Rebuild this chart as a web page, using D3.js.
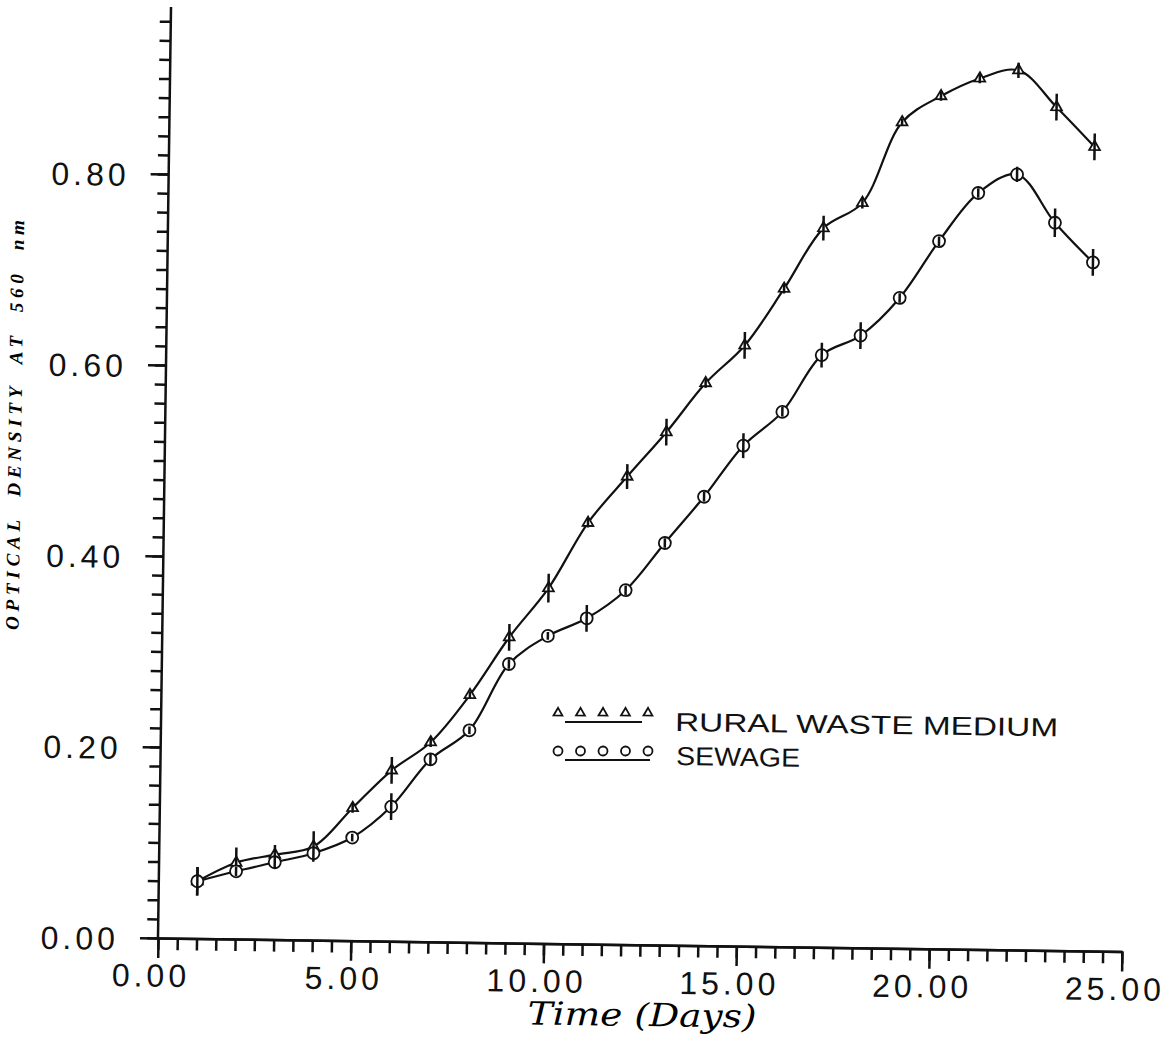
<!DOCTYPE html>
<html>
<head>
<meta charset="utf-8">
<title>Optical density at 560 nm</title>
<style>
  body { margin: 0; background: #fff; }
  svg { display: block; }
  .tick-label { font-family: "Liberation Sans", Arial, sans-serif; font-size: 32px; letter-spacing: 4px; fill: #111; }
  .axis path, .axis line { stroke: #111; stroke-width: 2.5; }
</style>
</head>
<body>
<svg id="chart" width="1173" height="1051"></svg>
<script src="https://d3js.org/d3.v7.min.js"></script>
<script>
// data
const days = [1, 2, 3, 4, 5, 6, 7, 8, 9, 10, 11, 12, 13, 14, 15, 16, 17, 18, 19, 20, 21, 22, 23, 24];
const rural = [0.060, 0.080, 0.089, 0.098, 0.139, 0.179, 0.209, 0.259, 0.320, 0.372, 0.441, 0.490,
               0.537, 0.589, 0.629, 0.689, 0.753, 0.780, 0.865, 0.893, 0.912, 0.921, 0.883, 0.842];
const ruralErr = [0.015, 0.016, 0.010, 0.016, 0.005, 0.014, 0.005, 0.004, 0.014, 0.015, 0.005, 0.013,
                  0.014, 0.005, 0.014, 0.005, 0.013, 0.006, 0.004, 0.005, 0.005, 0.008, 0.014, 0.014];
const sewage = [0.060, 0.071, 0.081, 0.091, 0.108, 0.141, 0.191, 0.222, 0.292, 0.322, 0.341, 0.371,
                0.421, 0.470, 0.524, 0.560, 0.620, 0.641, 0.681, 0.741, 0.792, 0.812, 0.762, 0.721];
const sewageErr = [0.015, 0.005, 0.006, 0.006, 0.004, 0.014, 0.006, 0.004, 0.005, 0.004, 0.014, 0.005,
                   0.005, 0.005, 0.013, 0.005, 0.013, 0.014, 0.005, 0.005, 0.005, 0.008, 0.015, 0.014];
const xTicks = [0, 5, 10, 15, 20, 25];
const yTicks = [0, 0.2, 0.4, 0.6, 0.8];
const legendLabels = ['RURAL WASTE MEDIUM', 'SEWAGE'];

const origin = [158, 938];
const tilt = 0.8; // the scanned figure leans a little clockwise
const sn = Math.sin(tilt * Math.PI / 180), cs = Math.cos(tilt * Math.PI / 180);

// screen position -> position inside the tilted group
function local(X, Y) {
  const dx = X - origin[0], dy = Y - origin[1];
  return [origin[0] + dx * cs + dy * sn, origin[1] - dx * sn + dy * cs];
}

const svg = d3.select('#chart');
svg.append('rect').attr('width', 1173).attr('height', 1051).attr('fill', '#fff');
const g = svg.append('g').attr('transform', `rotate(${tilt},${origin[0]},${origin[1]})`);

const x = d3.scaleLinear().domain([0, 25]).range([158, 1122]);
const y = d3.scaleLinear().domain([0, 1]).range([938, -17]);

// x axis, minor then major ticks
g.append('g').attr('class', 'axis').attr('transform', `translate(0,${y(0)})`)
  .call(d3.axisBottom(x).tickValues(d3.range(0, 25.01, 0.5)).tickSize(12).tickSizeOuter(0).tickFormat(''));
const xAxis = g.append('g').attr('class', 'axis').attr('transform', `translate(0,${y(0)})`)
  .call(d3.axisBottom(x).tickValues(xTicks).tickSize(20).tickSizeOuter(0).tickFormat(d3.format('.2f')));
xAxis.selectAll('text').attr('class', 'tick-label').attr('y', 26).attr('dy', '0.71em').attr('dx', -7);

// y axis
g.append('g').attr('class', 'axis').attr('transform', `translate(${x(0)},0)`)
  .call(d3.axisLeft(y).tickValues(d3.range(0, 0.97, 0.02)).tickSize(11).tickSizeOuter(0).tickFormat(''))
  .select('.domain').remove();
const yAxis = g.append('g').attr('class', 'axis').attr('transform', `translate(${x(0)},0)`)
  .call(d3.axisLeft(y).tickValues(yTicks).tickSize(18).tickSizeOuter(0).tickFormat(d3.format('.2f')));
yAxis.select('.domain').remove();
yAxis.selectAll('text').attr('class', 'tick-label').attr('x', -39).attr('dy', '0.37em');
g.append('line').attr('x1', x(0)).attr('x2', x(0)).attr('y1', y(0)).attr('y2', y(0.975))
  .attr('stroke', '#111').attr('stroke-width', 2.5);

// axis titles
const yt = local(15, 425);
g.append('text')
  .attr('transform', `translate(${yt[0]},${yt[1]}) rotate(-90)`)
  .attr('text-anchor', 'middle').attr('dy', '0.33em')
  .attr('font-family', '"Liberation Serif", serif').attr('font-style', 'italic').attr('font-weight', 'bold')
  .attr('font-size', 19).attr('textLength', 410).attr('lengthAdjust', 'spacing')
  .style('white-space', 'pre')
  .text('OPTICAL  DENSITY  AT  560  nm');

const xt = local(642, 1026);
g.append('text')
  .attr('x', xt[0]).attr('y', xt[1]).attr('text-anchor', 'middle')
  .attr('font-family', '"DejaVu Serif", serif').attr('font-style', 'italic')
  .attr('font-size', 32).attr('textLength', 229).attr('lengthAdjust', 'spacingAndGlyphs')
  .text('Time (Days)');

// curves
const line = d3.line().x(d => x(d[0])).y(d => y(d[1])).curve(d3.curveCatmullRom.alpha(0.5));
const series = [
  { vals: rural, err: ruralErr, kind: 'tri' },
  { vals: sewage, err: sewageErr, kind: 'circ' }
];
series.forEach(s => {
  g.append('path').datum(days.map((d, i) => [d, s.vals[i]]))
    .attr('d', line).attr('fill', 'none').attr('stroke', '#111').attr('stroke-width', 2.2);
});

const tri = d3.symbol(d3.symbolTriangle, 50);
series.forEach(s => {
  const pts = days.map((d, i) => ({ t: d, v: s.vals[i], e: s.err[i] }));
  const mk = g.append('g');
  if (s.kind === 'tri') {
    mk.selectAll('path').data(pts).join('path')
      .attr('d', tri).attr('transform', d => `translate(${x(d.t)},${y(d.v)})`)
      .attr('fill', '#fff').attr('stroke', '#111').attr('stroke-width', 1.8);
  } else {
    mk.selectAll('circle').data(pts).join('circle')
      .attr('cx', d => x(d.t)).attr('cy', d => y(d.v)).attr('r', 6)
      .attr('fill', '#fff').attr('stroke', '#111').attr('stroke-width', 1.8);
  }
  mk.selectAll('line').data(pts).join('line')
    .attr('x1', d => x(d.t)).attr('x2', d => x(d.t))
    .attr('y1', d => y(d.v - d.e)).attr('y2', d => y(d.v + d.e))
    .attr('stroke', '#111').attr('stroke-width', 2.5);
});

// legend
const legendRows = [
  { kind: 'tri', markY: 713, lineY: 722, lineX: [565, 642], textY: 731, textX: 675, width: 383 },
  { kind: 'circ', markY: 751, lineY: 760, lineX: [565, 650], textY: 765, textX: 676, width: 124 }
];
const legendTri = d3.symbol(d3.symbolTriangle, 34);
legendRows.forEach((r, ri) => {
  const lg = g.append('g');
  [558, 580.5, 603, 625.5, 648].forEach(mx => {
    const p = local(mx, r.markY);
    if (r.kind === 'tri') {
      lg.append('path').attr('d', legendTri).attr('transform', `translate(${p[0]},${p[1]})`)
        .attr('fill', 'none').attr('stroke', '#111').attr('stroke-width', 1.8);
    } else {
      lg.append('circle').attr('cx', p[0]).attr('cy', p[1]).attr('r', 4.5)
        .attr('fill', 'none').attr('stroke', '#111').attr('stroke-width', 1.8);
    }
  });
  const a = local(r.lineX[0], r.lineY), b = local(r.lineX[1], r.lineY);
  lg.append('line').attr('x1', a[0]).attr('y1', a[1]).attr('x2', b[0]).attr('y2', b[1])
    .attr('stroke', '#111').attr('stroke-width', 2);
  const p = local(r.textX, r.textY);
  lg.append('text').attr('x', p[0]).attr('y', p[1])
    .attr('font-family', '"Liberation Sans", Arial, sans-serif')
    .attr('font-size', 26).attr('fill', '#111')
    .attr('textLength', r.width).attr('lengthAdjust', 'spacingAndGlyphs')
    .text(legendLabels[ri]);
});
</script>
</body>
</html>
